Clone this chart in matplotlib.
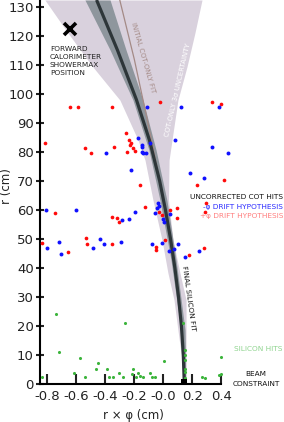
import matplotlib
matplotlib.use("Agg")
import matplotlib.pyplot as plt

W, H = 284, 422

# ---------------- data ----------------
# COT-only 3-sigma uncertainty band
band_r = [132.4, 121.0, 109.3, 97.9, 84.1, 77.2, 63.4, 49.7, 38.3, 29.0, 18.6, 8.3, 0.0]
band_left = [-0.816, -0.657, -0.485, -0.299, -0.174, -0.126, -0.071, -0.009, 0.032, 0.074, 0.101, 0.129, 0.143]
band_right = [0.267, 0.218, 0.163, 0.101, 0.060, 0.040, 0.036, 0.067, 0.115, 0.157, 0.157, 0.157, 0.150]

# uncertainty band of the final silicon fit
sil_r = [132.4, 115.2, 97.9, 80.7, 63.4, 42.8, 18.6, 0.0]
sil_left = [-0.540, -0.367, -0.209, -0.099, -0.023, 0.053, 0.122, 0.136]
sil_right = [-0.367, -0.257, -0.140, -0.050, 0.025, 0.088, 0.150, 0.157]

# final silicon fit
fit_r = [132.4, 115, 98, 84, 70, 60, 50, 40, 30, 20, 10, 0]
fit_x = [-0.460, -0.315, -0.185, -0.095, -0.025, 0.015, 0.050, 0.080, 0.105, 0.125, 0.138, 0.145]

# initial COT-only fit
cot_r = [132.4, 112, 91, 74, 60, 45, 30, 15, 0]
cot_x = [-0.300, -0.200, -0.110, -0.040, 0.020, 0.070, 0.110, 0.136, 0.149]

# uncorrected COT hits, +phi drift hypothesis
red_x = [-0.643, -0.588, -0.354, -0.816, -0.540, -0.499, -0.340, -0.250, -0.257, -0.237,
         -0.223, -0.230, -0.209, -0.195, -0.023, 0.336, 0.398, -0.161, 0.232, 0.419,
         0.294, 0.288, -0.747, -0.354, -0.319, -0.305, -0.126, -0.030, -0.009, 0.046,
         0.094, 0.094, -0.837, -0.657, -0.533, -0.526, -0.354, 0.012, -0.050, -0.050,
         0.177, 0.281]
red_r = [95.5, 95.5, 95.5, 83.1, 81.4, 79.7, 81.7, 80.0, 86.6, 84.1,
         83.1, 82.4, 81.4, 80.3, 97.2, 97.2, 96.6, 68.6, 68.6, 70.3,
         62.4, 59.3, 59.0, 57.6, 57.2, 55.9, 61.0, 59.3, 58.3, 60.0,
         60.7, 57.2, 48.6, 45.5, 50.3, 48.3, 48.3, 49.7, 47.2, 46.2,
         44.5, 46.9]

# uncorrected COT hits, -phi drift hypothesis
blue_x = [-0.171, -0.112, 0.122, 0.384, 0.084, -0.395, -0.223, -0.147, -0.147, -0.147,
          -0.140, -0.119, -0.092, 0.336, 0.446, 0.184, 0.281, -0.809, -0.602, -0.285,
          -0.237, -0.195, -0.037, -0.030, -0.043, -0.057, -0.002, 0.005, 0.046, -0.802,
          -0.719, -0.706, -0.485, -0.437, -0.409, -0.292, -0.078, -0.009, 0.039, 0.074,
          0.101, 0.150, 0.246]
blue_r = [84.8, 95.5, 95.5, 95.5, 84.3, 79.7, 73.8, 82.4, 81.7, 80.0,
          79.7, 79.7, 83.1, 81.7, 79.7, 72.8, 71.0, 60.0, 60.0, 56.6,
          56.9, 59.3, 62.4, 61.4, 60.7, 59.0, 56.9, 55.9, 58.6, 46.9,
          49.0, 44.8, 46.9, 50.0, 48.3, 49.0, 48.3, 48.6, 45.9, 46.6,
          48.3, 43.8, 45.9]

# silicon hits
green_x = [-0.741, -0.264, -0.719, -0.574, -0.450, -0.464, -0.388, -0.209, -0.837, -0.616,
           -0.540, -0.374, -0.347, -0.306, -0.278, -0.216, -0.188, -0.174, -0.161, -0.140,
           -0.092, -0.078, -0.057, 0.005, 0.136, 0.148, 0.148, 0.148, 0.150, 0.150,
           0.150, 0.148, 0.267, 0.288, 0.384, 0.398, 0.398]
green_r = [24.1, 21.0, 11.0, 9.0, 7.2, 5.2, 5.2, 5.2, 2.4, 3.8,
           2.4, 2.4, 2.4, 3.8, 2.4, 3.4, 2.4, 3.8, 2.8, 2.4,
           3.8, 2.4, 2.4, 7.9, 21.0, 11.7, 10.0, 8.3, 5.2, 4.1,
           2.1, 0.7, 2.4, 2.1, 3.1, 3.4, 9.3]

# beam constraint and forward calorimeter position
beam_x, beam_r = [0.146], [0.6]
calo_x, calo_r = [-0.643], [122.4]

x_ticks = [-0.8, -0.6, -0.4, -0.2, 0.0, 0.2, 0.4]
x_ticklabels = ["-0.8", "-0.6", "-0.4", "-0.2", "-0.0", "0.2", "0.4"]
y_ticks = list(range(0, 131, 10))

# ---------------- figure ----------------
plt.rcParams['font.family'] = ['DejaVu Sans']
fig = plt.figure(figsize=(W / 100, H / 100), dpi=100)
ax = fig.add_axes([40 / W, 38 / H, (235.8 - 40) / W, 384 / H])
ax.set_xlim(-0.85, 0.5)
ax.set_ylim(0, 132.4)

ax.fill_betweenx(band_r, band_left, band_right, color='#d9d1dd', lw=0, zorder=1)
ax.fill_betweenx(sil_r, sil_left, sil_right, color='#8e969d', lw=0, zorder=2)
ax.plot(cot_x, cot_r, color='#a48a86', lw=0.9, zorder=3)
ax.plot(fit_x, fit_r, color='#2d3639', lw=2.3, zorder=4, solid_capstyle='butt')

ax.scatter(red_x, red_r, s=7, color='#ff0a0a', lw=0, zorder=5, clip_on=False)
ax.scatter(blue_x, blue_r, s=8, color='#1010ff', lw=0, zorder=6, clip_on=False)
ax.scatter(green_x, green_r, s=5, color='#3cb43c', lw=0, zorder=7, clip_on=False)
ax.scatter(beam_x, beam_r, s=16, marker='s', color='black', lw=0, zorder=8, clip_on=False)
ax.plot(calo_x, calo_r, marker='x', ms=9, mew=2.6, color='black', ls='none', zorder=8)

for s in ['top', 'right']:
    ax.spines[s].set_visible(False)
for s in ['left', 'bottom']:
    ax.spines[s].set_linewidth(1.5)
ax.spines['bottom'].set_bounds(-0.85, 0.4)

ax.set_xticks(x_ticks)
ax.set_xticklabels(x_ticklabels)
ax.set_yticks(y_ticks)
ax.tick_params(axis='x', direction='in', length=7, width=1.5, pad=4, labelsize=9.5, colors='#222222')
ax.tick_params(axis='y', direction='inout', length=6, width=1.5, pad=1.5, labelsize=9.5, colors='#222222')
ax.patch.set_alpha(0)

def ftext(x, y, s, **kw):
    fig.text(x / W, 1 - y / H, s, **kw)

ftext(7, 186, "r (cm)", rotation=90, ha='center', va='center', fontsize=8.5, color='#222222')
ftext(133, 415, "r \u00d7 \u03c6 (cm)", ha='center', va='center', fontsize=8.5, color='#222222')

ftext(50, 61, "FORWARD\nCALORIMETER\nSHOWERMAX\nPOSITION", ha='left', va='center',
      fontsize=5.3, linespacing=1.35, color='#222222')
ftext(143, 58, "INITIAL COT-ONLY FIT", rotation=-74, rotation_mode='anchor',
      ha='center', va='center', fontsize=5, color='#a48a86')
ftext(178, 90, "COT-ONLY 3\u03c3 UNCERTAINTY", rotation=77, rotation_mode='anchor',
      ha='center', va='center', fontsize=5, color='white')
ftext(189, 298, "FINAL SILICON FIT", rotation=-82, rotation_mode='anchor',
      ha='center', va='center', fontsize=5.3, color='#111111')

ftext(283, 197, "UNCORRECTED COT HITS", ha='right', va='center', fontsize=5.3, color='#111111')
ftext(283, 207, "-\u03c6 DRIFT HYPOTHESIS", ha='right', va='center', fontsize=5.3, color='#2a2aff')
ftext(283, 216, "+\u03c6 DRIFT HYPOTHESIS", ha='right', va='center', fontsize=5.3, color='#ff7f7f')
ftext(282, 349, "SILICON HITS", ha='right', va='center', fontsize=5.3, color='#8fd48f')
ftext(256, 374, "BEAM", ha='center', va='center', fontsize=5.3, color='#111111')
ftext(256, 384, "CONSTRAINT", ha='center', va='center', fontsize=5.3, color='#111111')

fig.savefig("out.png", dpi=100)
